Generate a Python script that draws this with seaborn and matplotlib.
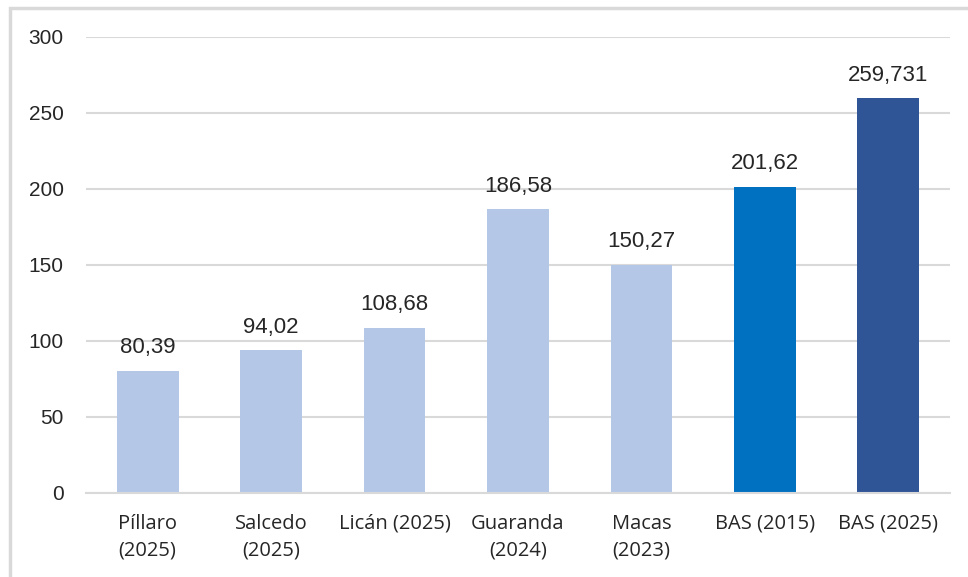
import matplotlib
matplotlib.use("Agg")
import matplotlib.pyplot as plt
import matplotlib.patches as mpatches
import seaborn as sns
import pandas as pd

categories = ["Píllaro\n(2025)", "Salcedo\n(2025)", "Licán (2025)", "Guaranda\n(2024)",
              "Macas\n(2023)", "BAS (2015)", "BAS (2025)"]
values = [80.39, 94.02, 108.68, 186.58, 150.27, 201.62, 259.731]
labels = ["80,39", "94,02", "108,68", "186,58", "150,27", "201,62", "259,731"]
colors = ["#b4c7e7", "#b4c7e7", "#b4c7e7", "#b4c7e7", "#b4c7e7", "#0070c0", "#2f5597"]

df = pd.DataFrame({"cat": categories, "val": values})

sns.set_style("white")
plt.rcParams["font.family"] = ["Liberation Sans", "DejaVu Sans"]

fig = plt.figure(figsize=(9.68, 5.77), dpi=100)
ax = fig.add_axes([0.0888, 0.1456, 0.8926, 0.7903])

sns.barplot(data=df, x="cat", y="val", hue="cat", palette=colors, legend=False,
            width=0.5, ax=ax, saturation=1, linewidth=0)

ax.set_ylim(0, 300)
ax.set_yticks(range(0, 301, 50))
ax.set_xlim(-0.5, 6.5)
ax.yaxis.grid(True, color="#d9d9d9", linewidth=1.5)
ax.set_axisbelow(True)
for s in ["top", "right", "left"]:
    ax.spines[s].set_visible(False)
ax.spines["bottom"].set_color("#d9d9d9")
ax.spines["bottom"].set_linewidth(1.5)
ax.set_xlabel("")
ax.set_ylabel("")
ax.tick_params(axis="y", length=0, pad=16, labelsize=15, labelcolor="#262626")
ax.tick_params(axis="x", length=0, pad=15, labelcolor="#262626")
for t in ax.get_xticklabels():
    t.set_fontfamily(["Open Sans", "DejaVu Sans"])
    t.set_fontsize(14.5)
    t.set_linespacing(1.45)
    t.set_verticalalignment("top")

for i, (v, lab) in enumerate(zip(values, labels)):
    ax.annotate(lab, (i, v), xytext=(0, 9), textcoords="offset points",
                ha="center", va="bottom", fontsize=16, color="#262626")

border = mpatches.Rectangle((10 / 968, -0.1), 1.2, 1 - 8 / 577 + 0.1,
                            transform=fig.transFigure, fill=False,
                            edgecolor="#d9d9d9", linewidth=2.5)
fig.patches.append(border)

fig.savefig("out.png", dpi=100)
